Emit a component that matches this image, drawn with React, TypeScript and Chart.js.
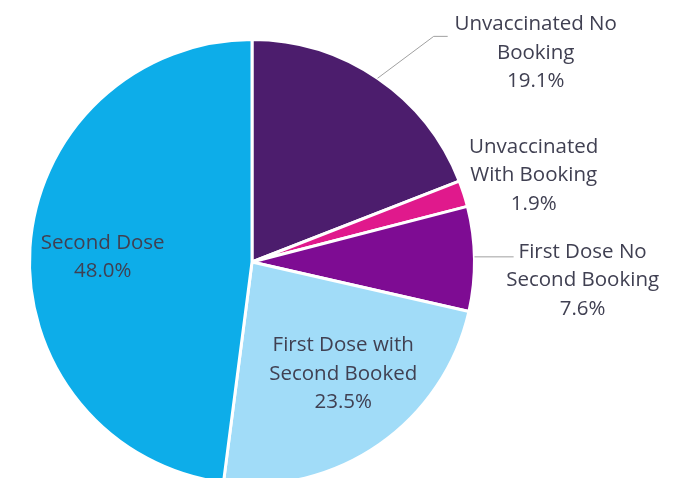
import React, { useEffect, useRef } from "react";
import { Chart, registerables } from "chart.js";

Chart.register(...registerables);

const categories = [
  "Unvaccinated No Booking",
  "Unvaccinated With Booking",
  "First Dose No Second Booking",
  "First Dose with Second Booked",
  "Second Dose",
];
const values = [19.1, 1.9, 7.6, 23.5, 48.0];
const labelLines = [
  ["Unvaccinated No", "Booking"],
  ["Unvaccinated", "With Booking"],
  ["First Dose No", "Second Booking"],
  ["First Dose with", "Second Booked"],
  ["Second Dose"],
];
const colors = ["#4C1D6D", "#E0198C", "#7E0C93", "#A1DCF8", "#0DADE9"];
// label anchor relative to pie center, in units of radius
const labelAnchors = [
  [1.275, -1.068],
  [1.266, -0.518],
  [1.486, -0.045],
  [0.41, 0.374],
  [-0.671, -0.086],
];

const labelPlugin = {
  id: "sliceLabels",
  afterDatasetsDraw(chart: any) {
    const ctx = chart.ctx;
    const meta = chart.getDatasetMeta(0);
    const arc0 = meta.data[0];
    const cx = arc0.x;
    const cy = arc0.y;
    const r = arc0.outerRadius;
    ctx.save();
    ctx.font = '20.5px "Open Sans", sans-serif';
    ctx.textAlign = "center";
    ctx.textBaseline = "middle";
    ctx.fillStyle = "#404052";
    const lh = 28.5;
    labelLines.forEach((lines, i) => {
      const [fx, fy] = labelAnchors[i];
      const x = cx + fx * r;
      const y0 = cy + fy * r;
      const all = [...lines, values[i].toFixed(1) + "%"];
      all.forEach((t, k) => ctx.fillText(t, x, y0 + k * lh));
    });
    // leader lines
    ctx.strokeStyle = "#A0A0A0";
    ctx.lineWidth = 1;
    const mid = (i: number) => {
      const a = meta.data[i];
      return (a.startAngle + a.endAngle) / 2;
    };
    // slice 0
    let a = mid(0);
    let ex = cx + Math.cos(a) * r;
    let ey = cy + Math.sin(a) * r;
    const [f0x, f0y] = labelAnchors[0];
    const lx = cx + f0x * r - 102;
    const ly = cy + f0y * r + 12;
    ctx.beginPath();
    ctx.moveTo(ex, ey);
    ctx.lineTo(lx, ly);
    ctx.lineTo(lx + 14, ly);
    ctx.stroke();
    // slice 2
    a = mid(2);
    ex = cx + Math.cos(a) * r;
    ey = cy + Math.sin(a) * r - 2;
    ctx.beginPath();
    ctx.moveTo(ex, ey);
    ctx.lineTo(cx + labelAnchors[2][0] * r - 69, ey);
    ctx.stroke();
    ctx.restore();
  },
};

export default function App() {
  const ref = useRef<HTMLCanvasElement>(null);
  useEffect(() => {
    document.body.style.margin = "0";
    const chart = new Chart(ref.current!, {
      type: "pie",
      data: {
        labels: categories,
        datasets: [
          {
            data: values,
            backgroundColor: colors,
            borderColor: "#ffffff",
            borderWidth: 3,
          },
        ],
      },
      options: {
        responsive: false,
        animation: false,
        layout: { padding: { left: 28, top: 38, right: 202, bottom: 14 } },
        plugins: {
          legend: { display: false },
          tooltip: { enabled: false },
        },
      },
      plugins: [labelPlugin],
    });
    return () => chart.destroy();
  }, []);
  return (
    <div style={{ position: "absolute", left: 0, top: 0, width: 678, height: 500 }}>
      <canvas ref={ref} width={678} height={500} />
    </div>
  );
}
